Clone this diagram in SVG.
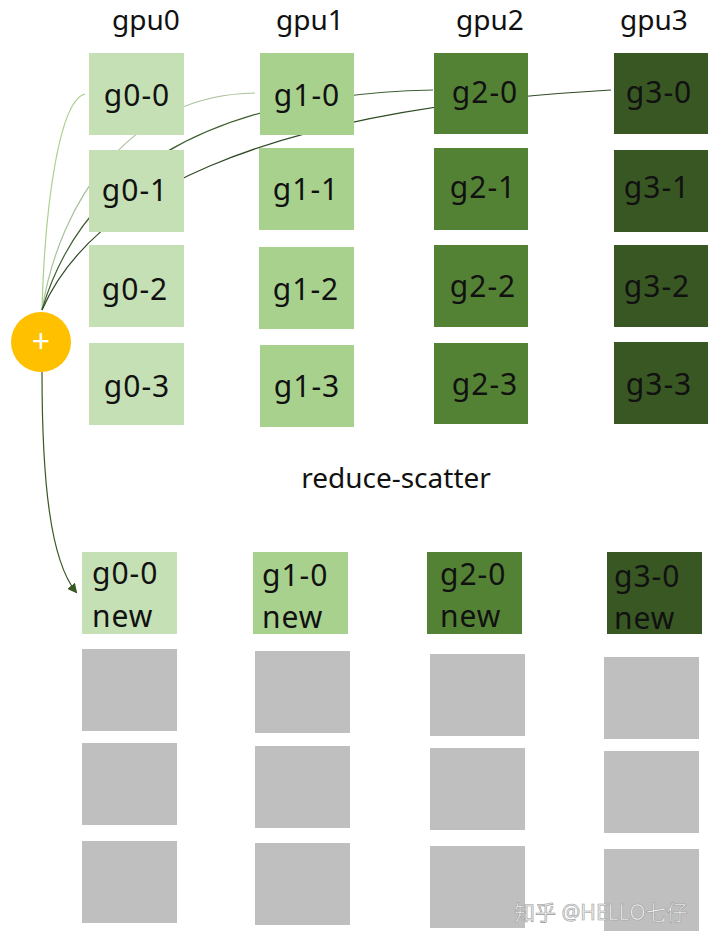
<svg xmlns="http://www.w3.org/2000/svg" width="713" height="944" viewBox="0 0 713 944">
<style>
text{font-family:"Noto Sans","Noto Sans CJK SC",sans-serif;fill:#111}
.h{font-size:28px;text-anchor:middle}
.l{font-size:30px;text-anchor:middle;letter-spacing:1px}
.n{font-size:30px;letter-spacing:1px}
.c0{fill:#c5e0b4}.c1{fill:#a9d18e}.c2{fill:#548235}.c3{fill:#385723}.g{fill:#bfbfbf}
.k{fill:none;stroke-width:1.2}
</style>
<defs><marker id="a" markerWidth="10" markerHeight="10" refX="8" refY="5" orient="auto" markerUnits="userSpaceOnUse"><path d="M0,0L10,5L0,10z" fill="#385723"/></marker></defs>
<rect width="713" height="944" fill="#fff"/>
<text class="h" x="146" y="30">gpu0</text><text class="h" x="310" y="30">gpu1</text><text class="h" x="490" y="30">gpu2</text><text class="h" x="654" y="30">gpu3</text>
<g id="connectors">
<path class="k" stroke="#a9d18e" d="M42,310 C45,200 60,100 85,94"/>
<path class="k" stroke="#a9c19a" d="M42,310 C60,200 130,95 255,93"/>
<path class="k" stroke="#3f6030" d="M42,310 C80,180 200,95 433,90"/>
<path class="k" stroke="#2f4a25" d="M42,310 C90,200 250,110 611,90"/>
<path class="k" stroke="#385723" d="M42,372 C42,480 50,560 76,592" marker-end="url(#a)"/>
</g>
<g id="plus"><circle cx="41" cy="342" r="30" fill="#ffc000"/><text x="41" y="353" font-size="32" text-anchor="middle" style="fill:#fff">+</text></g>
<g id="top">
<rect class="c0" x="89" y="53" width="95" height="82"/><text class="l" x="137" y="106">g0-0</text>
<rect class="c0" x="89" y="150" width="95" height="82"/><text class="l" x="135" y="201">g0-1</text>
<rect class="c0" x="89" y="245" width="95" height="82"/><text class="l" x="135" y="300">g0-2</text>
<rect class="c0" x="89" y="343" width="95" height="82"/><text class="l" x="137" y="397">g0-3</text>
<rect class="c1" x="260" y="53" width="94" height="82"/><text class="l" x="307" y="106">g1-0</text>
<rect class="c1" x="259" y="148" width="95" height="82"/><text class="l" x="306" y="200">g1-1</text>
<rect class="c1" x="259" y="247" width="95" height="82"/><text class="l" x="306" y="300">g1-2</text>
<rect class="c1" x="260" y="345" width="94" height="82"/><text class="l" x="307" y="397">g1-3</text>
<rect class="c2" x="434" y="53" width="94" height="81"/><text class="l" x="485" y="103">g2-0</text>
<rect class="c2" x="434" y="148" width="94" height="82"/><text class="l" x="483" y="198">g2-1</text>
<rect class="c2" x="434" y="245" width="94" height="82"/><text class="l" x="483" y="297">g2-2</text>
<rect class="c2" x="434" y="343" width="94" height="81"/><text class="l" x="485" y="395">g2-3</text>
<rect class="c3" x="614" y="53" width="94" height="81"/><text class="l" x="659" y="103">g3-0</text>
<rect class="c3" x="614" y="150" width="94" height="82"/><text class="l" x="657" y="198">g3-1</text>
<rect class="c3" x="614" y="245" width="94" height="82"/><text class="l" x="657" y="297">g3-2</text>
<rect class="c3" x="614" y="342" width="94" height="82"/><text class="l" x="659" y="395">g3-3</text>
</g>
<text class="h" x="396" y="488">reduce-scatter</text>
<g id="bottom">
<rect class="c0" x="82" y="552" width="95" height="82"/><text class="n" x="92" y="584">g0-0</text><text class="n" x="92" y="627">new</text>
<rect class="c1" x="253" y="552" width="95" height="82"/><text class="n" x="262" y="586">g1-0</text><text class="n" x="262" y="628">new</text>
<rect class="c2" x="427" y="552" width="95" height="82"/><text class="n" x="440" y="585">g2-0</text><text class="n" x="440" y="627">new</text>
<rect class="c3" x="607" y="552" width="95" height="82"/><text class="n" x="614" y="587">g3-0</text><text class="n" x="614" y="629">new</text>
<rect class="g" x="82" y="649" width="95" height="82"/><rect class="g" x="82" y="743" width="95" height="82"/><rect class="g" x="82" y="841" width="95" height="82"/>
<rect class="g" x="255" y="651" width="95" height="82"/><rect class="g" x="255" y="746" width="95" height="82"/><rect class="g" x="255" y="843" width="95" height="82"/>
<rect class="g" x="430" y="654" width="95" height="82"/><rect class="g" x="430" y="748" width="95" height="82"/><rect class="g" x="430" y="846" width="95" height="82"/>
<rect class="g" x="604" y="657" width="95" height="82"/><rect class="g" x="604" y="751" width="95" height="82"/><rect class="g" x="604" y="849" width="95" height="82"/>
</g>
<text x="514" y="920" font-size="21" style="fill:#f2f2f2;stroke:#999;stroke-width:0.6">知乎 @HELLO七仔</text>
</svg>
